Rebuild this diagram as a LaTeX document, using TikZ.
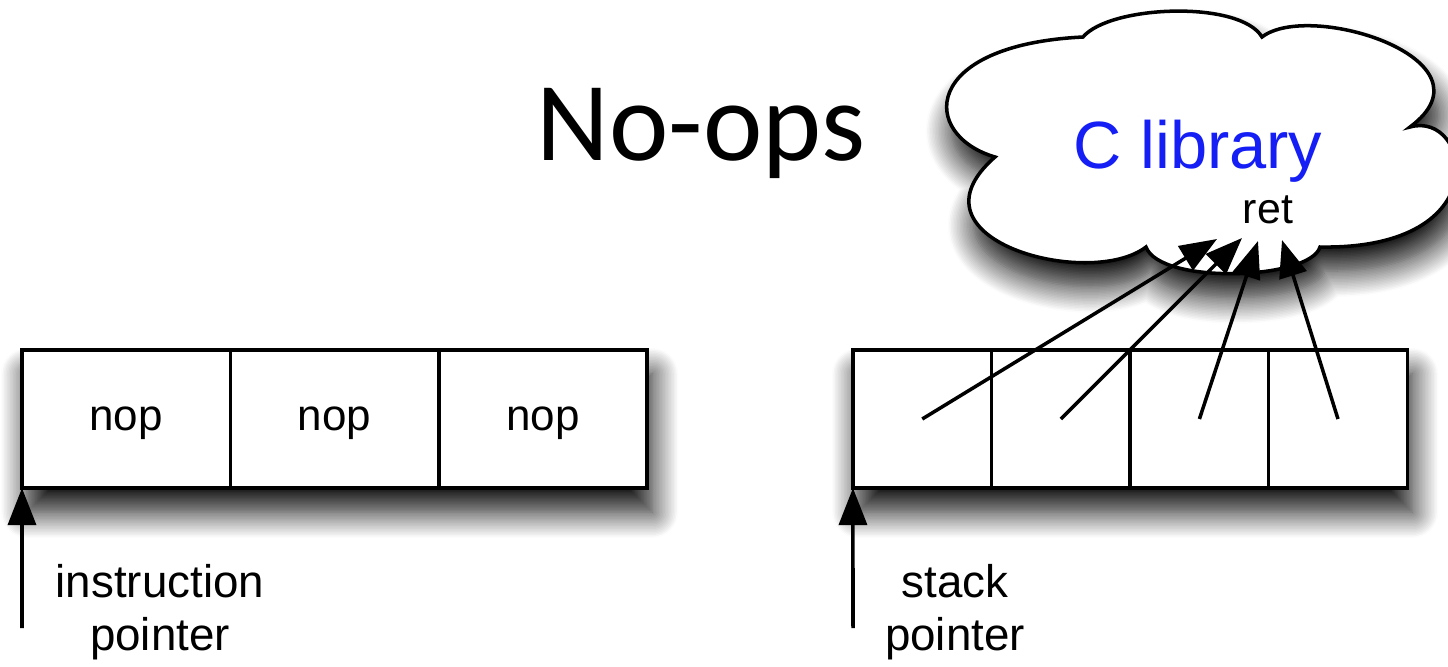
\documentclass[tikz,border=0pt]{standalone}
\usepackage{fontspec}
\setmainfont{Liberation Sans}
\newfontfamily\titlefont{Carlito}
\usepackage{xcolor}
\usetikzlibrary{positioning,backgrounds,shadows.blur,arrows.meta}
\definecolor{libblue}{RGB}{20,30,245}

\tikzset{
  nopcell/.style={draw, line width=1pt, fill=white, minimum width=2.083cm,
    minimum height=1.38cm, inner sep=0pt, outer sep=0pt, text depth=0pt,
    font=\fontsize{12.5}{15}\selectfont},
  stackcell/.style={nopcell, minimum width=1.385cm},
  softshadow/.style={blur shadow={shadow xshift=0.5mm, shadow yshift=-2.4mm,
    shadow blur radius=2.6mm, shadow blur steps=18, shadow opacity=95}},
  ptr/.style={line width=1pt, opacity=1, fill opacity=1,
    -{Triangle[length=3.7mm, width=2.8mm, fill=black]}},
  ptrtext/.style={font=\fontsize{13}{14.8}\selectfont, align=center}
}

\begin{document}
\begin{tikzpicture}[x=0.01cm, y=-0.01cm]
  \useasboundingbox (0,0) rectangle (1448,666);

  % title
  \node[anchor=base, font=\titlefont\fontsize{32}{38}\selectfont] (title) at (701,160) {No-ops};

  % the cloud
  \draw[line width=1pt, fill=white, softshadow]
    (995,157) .. controls (920,135) and (920,45) .. (1083,37)
    .. controls (1110,5) and (1240,0) .. (1262,37)
    .. controls (1310,0) and (1500,60) .. (1410,127)
    .. controls (1470,110) and (1500,250) .. (1320,247)
    .. controls (1310,280) and (1160,285) .. (1146,247)
    .. controls (1090,290) and (900,240) .. cycle;
  \node[anchor=base, text=libblue, font=\fontsize{19}{23}\selectfont] (lib) at (1198,168) {C library};
  \node[anchor=base, font=\fontsize{12.2}{14}\selectfont] (ret) at (1268,223) {ret};

  % code buffer
  \node[nopcell] (n1) at (126.2,419) {nop};
  \node[nopcell, right=0pt of n1] (n2) {nop};
  \node[nopcell, right=0pt of n2] (n3) {nop};

  % stack
  \node[stackcell] (s1) at (922.25,419) {};
  \node[stackcell, right=0pt of s1] (s2) {};
  \node[stackcell, right=0pt of s2] (s3) {};
  \node[stackcell, right=0pt of s3] (s4) {};

  \begin{scope}[on background layer]
    \fill[white, softshadow] (n1.north west) rectangle (n3.south east);
    \fill[white, softshadow] (s1.north west) rectangle (s4.south east);
  \end{scope}

  % return addresses
  \coordinate (r1) at (1217,239);
  \coordinate (r2) at (1242,238);
  \coordinate (r3) at (1258,241);
  \coordinate (r4) at (1282,240);
  \draw[ptr] (s1.center) -- (r1);
  \draw[ptr] (s2.center) -- (r2);
  \draw[ptr] (s3.center) -- (r3);
  \draw[ptr] (s4.center) -- (r4);

  % pointers
  \coordinate (iptail) at (22,628);
  \draw[ptr] (iptail) -- (n1.south west);
  \node[ptrtext, anchor=base] (ip) at (160,650) {instruction\\pointer};

  \coordinate (sptail) at (853,628);
  \draw[ptr] (sptail) -- (s1.south west);
  \node[ptrtext, anchor=base] (sp) at (955,650) {stack\\pointer};
\end{tikzpicture}
\end{document}
